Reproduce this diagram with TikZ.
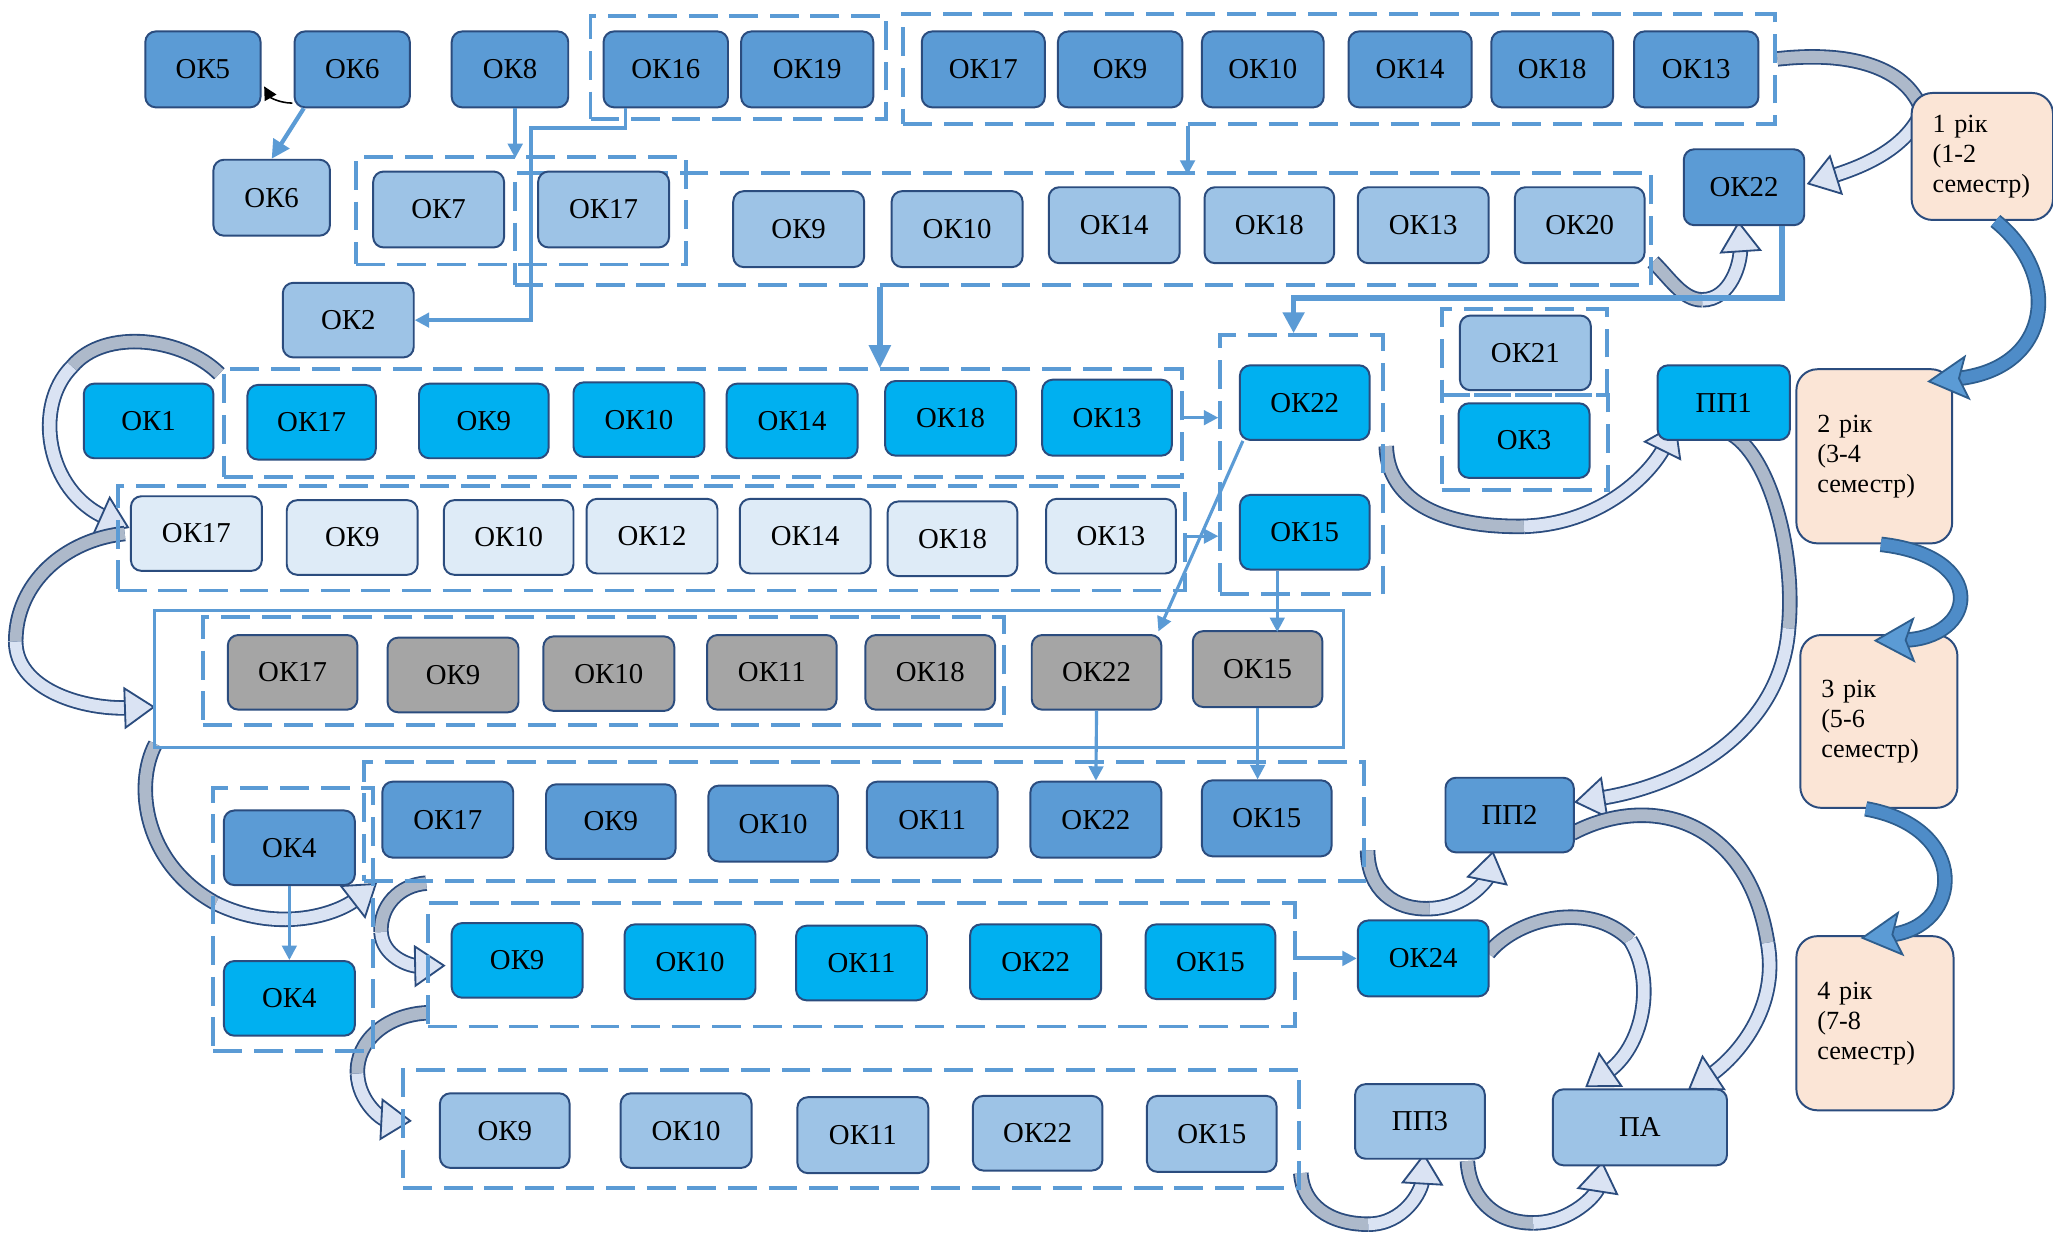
\documentclass[tikz,border=0pt]{standalone}
\usepackage{fontspec}
\setmainfont{Liberation Serif}
\usetikzlibrary{arrows.meta,calc,decorations.markings}
\definecolor{dkb}{HTML}{5B9BD5}
\definecolor{ltb}{HTML}{9DC3E6}
\definecolor{vlb}{HTML}{DEEBF7}
\definecolor{cyn}{HTML}{00B0F0}
\definecolor{gry}{HTML}{A5A5A5}
\definecolor{pch}{HTML}{FBE5D6}
\definecolor{edg}{HTML}{2B4C7E}
\definecolor{lnb}{HTML}{5B9BD5}
\definecolor{bandg}{HTML}{ADB9CA}
\definecolor{bandl}{HTML}{DAE3F3}
\definecolor{yedge}{HTML}{2E5E8E}
\definecolor{yfill}{HTML}{4E8CC8}
\pgfdeclarelayer{back}
\pgfsetlayers{back,main}
\newcommand\mkbox[7]{\node[#1, minimum width={(#5-#3)*0.5pt}, minimum height={(#6-#4)*0.5pt}] (#2) at ({(#3+#5)/2},{(#4+#6)/2}) {#7};}
\newcommand\barrow[7]{%
  \draw[gband] #1 .. controls #2 and #3 .. #4;
  \draw[lband] #4 .. controls #5 and #6 .. #7;
  \path[tipm=bandl] #4 .. controls #5 and #6 .. #7;}
\newcommand\yarrow[4]{%
  \draw[yband] #1 .. controls #2 and #3 .. #4;
  \path[tipy] #1 .. controls #2 and #3 .. #4;}
\tikzset{
  okb/.style={draw=edg, line width=0.75pt, rounded corners=4pt, inner sep=0pt, font=\rmfamily\fontsize{11}{13}\selectfont, text=black},
  okd/.style={okb, fill=dkb},
  okl/.style={okb, fill=ltb},
  okv/.style={okb, fill=vlb},
  okc/.style={okb, fill=cyn},
  okg/.style={okb, fill=gry},
  yearb/.style={draw=edg, line width=0.75pt, rounded corners=8pt, fill=pch, align=left, inner xsep=8pt, font=\rmfamily\fontsize{10}{11.5}\selectfont},
  dbox/.style={draw=lnb, line width=1.5pt, dash pattern=on 11pt off 4.5pt, inner sep=0pt},
  sbox/.style={draw=lnb, line width=1.2pt, inner sep=0pt},
  conn/.style={draw=lnb, line width=1.2pt, -{Triangle[length=5.5pt,width=5.5pt]}},
  gband/.style={draw=edg, line width=0.7pt, double=bandg, double distance=4.5pt},
  lband/.style={draw=edg, line width=0.7pt, double=bandl, double distance=4.5pt, shorten >=9pt},
  yband/.style={draw=yedge, line width=0.7pt, double=yfill, double distance=4.5pt, shorten >=10pt},
  tipm/.style={decorate, decoration={markings, mark=at position 0.997 with {\filldraw[fill=#1, draw=edg, line width=0.7pt] (0.5pt,0pt) -- (-10.5pt,7.5pt) -- (-10.5pt,-7.5pt) -- cycle;}}},
  tipy/.style={decorate, decoration={markings, mark=at position 0.997 with {\filldraw[fill=dkb, draw=yedge, line width=0.7pt] (0.5pt,0pt) -- (-14pt,8pt) -- (-11pt,0pt) -- (-14pt,-8pt) -- cycle;}}},
}
\begin{document}
\begin{tikzpicture}[x=0.5pt, y=-0.5pt]
\useasboundingbox (0,0) rectangle (1568,942);
% dashed groups
\mkbox{dbox}{g1}{451}{12}{677}{91}{}
\mkbox{dbox}{g3}{690}{11}{1356}{95}{}
\mkbox{dbox}{g2}{272}{120}{524}{202}{}
\mkbox{dbox}{g4}{393}{132}{1261}{218}{}
\mkbox{dbox}{g6}{171}{282}{903}{364}{}
\mkbox{dbox}{g5}{932}{256}{1056}{454}{}
\mkbox{dbox}{gA}{1101}{236}{1227}{302}{}
\mkbox{dbox}{gB}{1101}{302}{1228}{374}{}
\mkbox{dbox}{g7}{90}{371}{905}{451}{}
\mkbox{sbox}{g8}{118}{466}{1026}{571}{}
\mkbox{dbox}{g9}{155}{471}{767}{554}{}
\mkbox{dbox}{g10}{278}{582}{1042}{673}{}
\mkbox{dbox}{g11}{163}{602}{285}{803}{}
\mkbox{dbox}{g12}{327}{690}{989}{784}{}
\mkbox{dbox}{g13}{308}{817}{992}{907}{}
% row 1
\mkbox{okd}{r1a}{111}{24}{199}{82}{ОК5}
\mkbox{okd}{r1b}{225}{24}{313}{82}{ОК6}
\mkbox{okd}{r1c}{345}{24}{434}{82}{ОК8}
\mkbox{okd}{r1d}{461}{24}{556}{82}{ОК16}
\mkbox{okd}{r1e}{566}{24}{667}{82}{ОК19}
\mkbox{okd}{r1f}{704}{24}{798}{82}{ОК17}
\mkbox{okd}{r1g}{808}{24}{903}{82}{ОК9}
\mkbox{okd}{r1h}{918}{24}{1011}{82}{ОК10}
\mkbox{okd}{r1i}{1030}{24}{1124}{82}{ОК14}
\mkbox{okd}{r1j}{1139}{24}{1232}{82}{ОК18}
\mkbox{okd}{r1k}{1248}{24}{1343}{82}{ОК13}
% row 2
\mkbox{okl}{r2a}{163}{122}{252}{180}{ОК6}
\mkbox{okl}{r2b}{285}{131}{385}{189}{ОК7}
\mkbox{okl}{r2c}{411}{131}{511}{189}{ОК17}
\mkbox{okl}{r2d}{560}{146}{660}{204}{ОК9}
\mkbox{okl}{r2e}{681}{146}{781}{204}{ОК10}
\mkbox{okl}{r2f}{801}{143}{901}{201}{ОК14}
\mkbox{okl}{r2g}{920}{143}{1019}{201}{ОК18}
\mkbox{okl}{r2h}{1037}{143}{1137}{201}{ОК13}
\mkbox{okl}{r2i}{1157}{143}{1256}{201}{ОК20}
\mkbox{okl}{r2j}{216}{216}{316}{273}{ОК2}
\mkbox{okd}{r2k}{1286}{114}{1378}{172}{ОК22}
% row 3
\mkbox{okc}{r3a}{64}{293}{163}{350}{ОК1}
\mkbox{okc}{r3b}{189}{294}{287}{351}{ОК17}
\mkbox{okc}{r3c}{320}{293}{419}{350}{ОК9}
\mkbox{okc}{r3d}{438}{292}{538}{349}{ОК10}
\mkbox{okc}{r3e}{555}{293}{655}{350}{ОК14}
\mkbox{okc}{r3f}{676}{291}{776}{348}{ОК18}
\mkbox{okc}{r3g}{796}{290}{895}{348}{ОК13}
\mkbox{okc}{r3h}{947}{279}{1046}{336}{ОК22}
\mkbox{okl}{r3i}{1115}{241}{1215}{298}{ОК21}
\mkbox{okc}{r3j}{1114}{308}{1214}{365}{ОК3}
\mkbox{okc}{r3k}{1266}{279}{1367}{336}{ПП1}
\mkbox{okc}{r3l}{947}{378}{1046}{435}{ОК15}
% row 4
\mkbox{okv}{r4a}{100}{379}{200}{436}{ОК17}
\mkbox{okv}{r4b}{219}{382}{319}{439}{ОК9}
\mkbox{okv}{r4c}{339}{382}{438}{439}{ОК10}
\mkbox{okv}{r4d}{448}{381}{548}{438}{ОК12}
\mkbox{okv}{r4e}{565}{381}{665}{438}{ОК14}
\mkbox{okv}{r4f}{678}{383}{777}{440}{ОК18}
\mkbox{okv}{r4g}{799}{381}{898}{438}{ОК13}
% row 5
\mkbox{okg}{r5a}{174}{485}{273}{542}{ОК17}
\mkbox{okg}{r5b}{296}{487}{396}{544}{ОК9}
\mkbox{okg}{r5c}{415}{486}{515}{543}{ОК10}
\mkbox{okg}{r5d}{540}{485}{639}{542}{ОК11}
\mkbox{okg}{r5e}{661}{485}{760}{542}{ОК18}
\mkbox{okg}{r5f}{788}{485}{887}{542}{ОК22}
\mkbox{okg}{r5g}{911}{482}{1010}{540}{ОК15}
% row 6
\mkbox{okd}{r6a}{292}{597}{392}{655}{ОК17}
\mkbox{okd}{r6b}{417}{599}{516}{656}{ОК9}
\mkbox{okd}{r6c}{541}{600}{640}{658}{ОК10}
\mkbox{okd}{r6d}{662}{597}{762}{655}{ОК11}
\mkbox{okd}{r6e}{787}{597}{887}{655}{ОК22}
\mkbox{okd}{r6f}{918}{596}{1017}{654}{ОК15}
\mkbox{okd}{r6g}{171}{619}{271}{676}{ОК4}
\mkbox{okc}{r6h}{171}{734}{271}{791}{ОК4}
\mkbox{okd}{r6i}{1104}{594}{1202}{651}{ПП2}
% row 7
\mkbox{okc}{r7a}{345}{705}{445}{762}{ОК9}
\mkbox{okc}{r7b}{477}{706}{577}{763}{ОК10}
\mkbox{okc}{r7c}{608}{707}{708}{764}{ОК11}
\mkbox{okc}{r7d}{741}{706}{841}{763}{ОК22}
\mkbox{okc}{r7e}{875}{706}{974}{763}{ОК15}
\mkbox{okc}{r7f}{1037}{703}{1137}{761}{ОК24}
% row 8
\mkbox{okl}{r8a}{336}{835}{435}{892}{ОК9}
\mkbox{okl}{r8b}{474}{835}{574}{892}{ОК10}
\mkbox{okl}{r8c}{609}{838}{709}{896}{ОК11}
\mkbox{okl}{r8d}{743}{837}{842}{894}{ОК22}
\mkbox{okl}{r8e}{876}{837}{975}{895}{ОК15}
\mkbox{okl}{r8f}{1035}{828}{1134}{885}{ПП3}
\mkbox{okl}{r8g}{1186}{832}{1319}{890}{ПА}
% years
\node[yearb, minimum width=54pt, minimum height=48.5pt, text width=38pt] (y1) at (1514,119.5) {1 рік\\(1-2\\семестр)};
\node[yearb, minimum width=59.5pt, minimum height=66.5pt, text width=43.5pt] (y2) at (1431.5,348.5) {2 рік\\(3-4\\семестр)};
\node[yearb, minimum width=60pt, minimum height=66pt, text width=44pt] (y3) at (1435,551) {3 рік\\(5-6\\семестр)};
\node[yearb, minimum width=60pt, minimum height=66.5pt, text width=44pt] (y4) at (1432,781.5) {4 рік\\(7-8\\семестр)};
% year arrows (over the boxes)
\yarrow{($(y1.south)+(10,0)$)}{(1575,210)}{(1568,282)}{($(y2.north east)+(-18,10)$)}
\yarrow{($(y2.south)+(5,0)$)}{(1520,425)}{(1510,488)}{($(y3.north)+(-2,5)$)}
\yarrow{($(y3.south)+(-10,0)$)}{(1505,632)}{(1500,708)}{($(y4.north)+(-9,2)$)}
% thin connectors
\draw[black, line width=0.6pt, -{Triangle[length=5pt,width=5pt]}] ($(r1b.south west)+(-1,-4)$) to[bend left=30] ($(r1a.east)+(2,13)$);
\draw[conn, line width=1.6pt, -{Triangle[length=7pt,width=7pt]}] ($(r1b.south)+(-37,0)$) -- (r2a.north);
\draw[conn, line width=1.5pt] ($(r1c.south)+(4,0)$) -- ++(0,38);
\draw[conn, line width=1.3pt] ($(r1d.south)+(-31,0)$) -- ++(0,15) -- ++(-72,0) |- (r2j.east);
\draw[conn, line width=1.5pt] ($(g3.south)+(-116,0)$) -- ++(0,37);
\draw[conn, line width=2.2pt, -{Triangle[length=9pt,width=8pt]}] ($(g4.south)+(-155,0)$) -- ++(0,62);
\draw[conn, line width=2.2pt, -{Triangle[length=8pt,width=8pt]}] ($(r2k.south)+(29,0)$) -- ++(0,55) -| ($(g5.north)+(-6,0)$);
\draw[conn] (g6.east |- r3g.east) -- (g5.west |- r3g.east);
\draw[conn] (g7.east |- r4g.east) -- (g5.west |- r4g.east);
\draw[conn] ($(r3h.south west)+(3,0)$) -- ($(r5f.north east)+(-3,-2)$);
\draw[conn] ($(r3l.south)+(-21,0)$) -- ++(0,47);
\draw[conn] (r5f.south) -- (r6e.north);
\draw[conn] (r5g.south) -- (r5g.south |- r6f.north);
\draw[conn] (r6g.south) -- (r6h.north);
\draw[conn, line width=1.5pt] (g12.east |- r7f.west) -- (r7f.west);
% block arrows
\begin{pgfonlayer}{back}
\fill[white] (0,0) rectangle (1568,942);
\barrow{(g3.east |- 0,45)}{(1420,38)}{(1458,55)}{(1468,85)}{(1455,115)}{(1420,128)}{($(r2k.east)+(3,-3)$)}
\barrow{(g4.east |- 0,200)}{(1275,212)}{(1285,229)}{(1300,229)}{(1322,229)}{(1330,200)}{($(r2k.south)+(-4,-2)$)}
\barrow{($(g6.north west)+(-2,5)$)}{(140,258)}{(80,250)}{(55,280)}{(25,310)}{(35,375)}{($(r4a.west)+(-2,-5)$)}
\barrow{($(r4a.west)+(-4,0)$)}{(50,412)}{(12,445)}{(12,490)}{(12,525)}{(60,542)}{(g8.west |- 0,540)}
\barrow{($(g8.south west)+(2,-4)$)}{(102,600)}{(110,660)}{(165,690)}{(210,712)}{(255,700)}{($(g10.south west)+(10,1)$)}
\barrow{(g12.west |- g10.south)}{(305,676)}{(290,692)}{(291,712)}{(292,730)}{(312,738)}{($(r7a.west)+(-6,4)$)}
\barrow{($(g12.south west)+(1,-12)$)}{(295,775)}{(272,795)}{(273,820)}{(274,842)}{(292,855)}{($(g13.west)+(6,-6)$)}
\barrow{($(r3h.south east)+(12,4)$)}{(1060,385)}{(1105,403)}{(1164,402)}{(1225,400)}{(1262,360)}{($(r3k.south west)+(14,-12)$)}
\barrow{($(r3k.south)+(0,-8)$)}{(1350,340)}{(1372,420)}{(1366,480)}{(1360,560)}{(1285,600)}{($(r6i.east)+(1,-10)$)}
\barrow{($(g10.east)+(1,22)$)}{(1045,680)}{(1065,695)}{(1092,694)}{(1120,693)}{(1136,672)}{($(r6i.south)+(-13,0)$)}
\barrow{($(r6i.east)+(-2,14)$)}{(1260,605)}{(1335,625)}{(1350,720)}{(1360,775)}{(1320,812)}{($(r8g.north east)+(-29,0)$)}
\barrow{($(r7f.east)+(-1,-4)$)}{(1160,700)}{(1215,688)}{(1245,718)}{(1265,750)}{(1255,800)}{($(r8g.north west)+(27,-2)$)}
\barrow{($(g13.east)+(0,34)$)}{(995,920)}{(1015,935)}{(1045,935)}{(1072,935)}{(1086,910)}{($(r8f.south)+(3,-3)$)}
\barrow{($(r8f.south east)+(-14,1)$)}{(1122,913)}{(1140,934)}{(1171,934)}{(1200,934)}{(1220,912)}{($(r8g.south)+(-29,-2)$)}
\end{pgfonlayer}
\end{tikzpicture}
\end{document}
